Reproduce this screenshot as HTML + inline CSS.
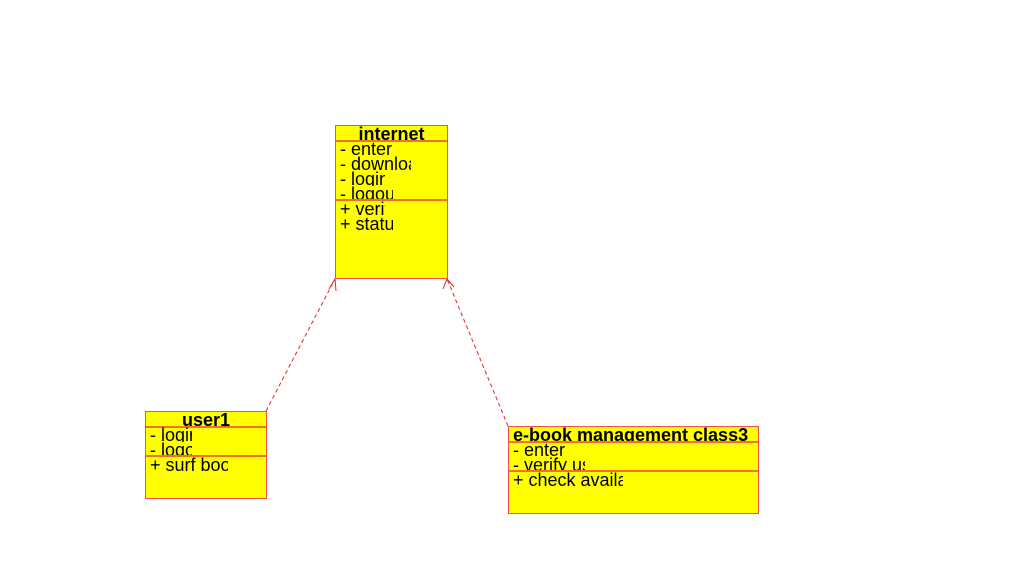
<!DOCTYPE html>
<html><head><style>
body{margin:0;width:1012px;height:585px;background:#fff;position:relative;overflow:hidden;font-family:"Liberation Sans",Arial,sans-serif;}
.box{position:absolute;background:#ff0;border:1px solid #f05050;box-sizing:border-box;}
.hd{position:absolute;left:0;right:0;top:0;height:14px;border-bottom:2px solid #f07030;font-weight:bold;font-size:18px;line-height:16px;text-align:center;overflow:hidden;}
.sep{position:absolute;left:0;right:0;border-top:2px solid #f07030;}
.t{position:absolute;font-size:18px;line-height:17px;height:15px;overflow:hidden;white-space:nowrap;}
svg{position:absolute;left:0;top:0;}
</style></head><body>
<svg width="1012" height="585">
<g stroke="#f02020" fill="none" stroke-width="1">
<line x1="266" y1="411" x2="335" y2="279" stroke-dasharray="4,3"/>
<polyline points="329,289 335,279 336,291"/>
<line x1="508" y1="426" x2="447" y2="279" stroke-dasharray="4,3"/>
<polyline points="443,289 447,279 454,287"/>
</g>
</svg>
<div class="box" style="left:335px;top:125px;width:113px;height:154px">
<div class="hd">internet</div>
<div class="t" style="left:4px;top:15px;width:54px">- enter</div>
<div class="t" style="left:4px;top:30px;width:71px">- download</div>
<div class="t" style="left:4px;top:45px;width:45px">- login</div>
<div class="t" style="left:4px;top:60px;width:53px">- logout</div>
<div class="sep" style="top:73px"></div>
<div class="t" style="left:4px;top:75px;width:45px">+ verify</div>
<div class="t" style="left:4px;top:90px;width:53px">+ status</div>
</div>
<div class="box" style="left:145px;top:411px;width:122px;height:88px">
<div class="hd">user1</div>
<div class="t" style="left:4px;top:15px;width:42px">- login</div>
<div class="t" style="left:4px;top:30px;width:42px">- logout</div>
<div class="sep" style="top:43px"></div>
<div class="t" style="left:4px;top:45px;width:78px">+ surf books</div>
</div>
<div class="box" style="left:508px;top:426px;width:251px;height:88px">
<div class="hd" style="text-align:left;padding-left:4px">e-book management class3</div>
<div class="t" style="left:4px;top:15px;width:72px">- enter</div>
<div class="t" style="left:4px;top:30px;width:72px">- verify user</div>
<div class="sep" style="top:43px"></div>
<div class="t" style="left:4px;top:45px;width:110px">+ check availability</div>
</div>
</body></html>
